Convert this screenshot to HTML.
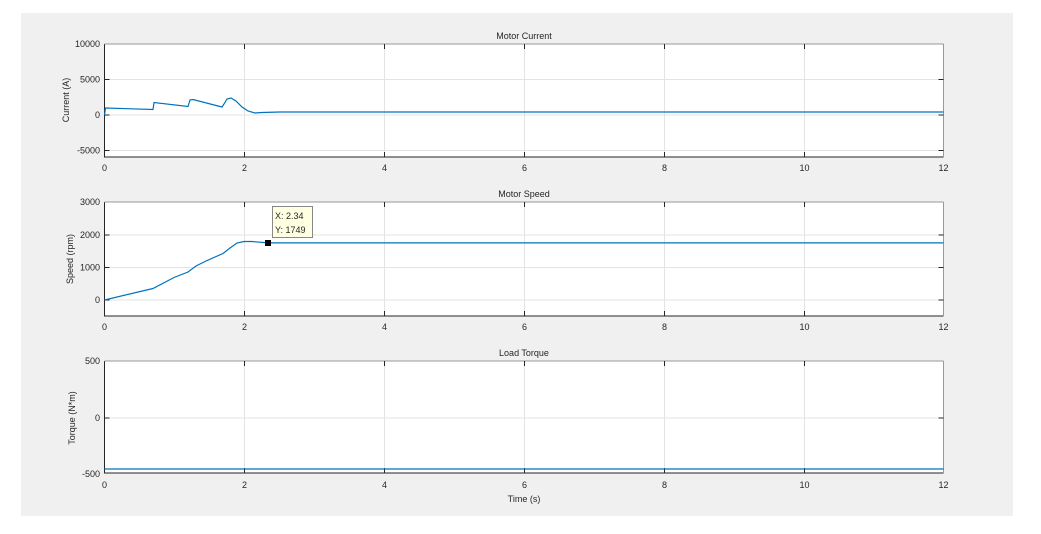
<!DOCTYPE html><html><head><style>body{margin:0;background:#fff}</style></head><body>
<svg width="1041" height="529" xmlns="http://www.w3.org/2000/svg" font-family="Liberation Sans, sans-serif" font-size="9" fill="#262626">
<rect x="21" y="13" width="992" height="503" fill="#f0f0f0"/>
<g id="grid" stroke="#e3e3e3" stroke-width="1">
<rect x="104.5" y="44" width="839" height="113" fill="#fff" stroke="none"/>
<rect x="104.5" y="202" width="839" height="114" fill="#fff" stroke="none"/>
<rect x="104.5" y="361" width="839" height="112" fill="#fff" stroke="none"/>
<path d="M244.5 44V157M384.5 44V157M524.5 44V157M664.5 44V157M804.5 44V157M104.5 79.5H943.5M104.5 115H943.5M104.5 150.5H943.5"/>
<path d="M244.5 202V316M384.5 202V316M524.5 202V316M664.5 202V316M804.5 202V316M104.5 235H943.5M104.5 267.5H943.5M104.5 300H943.5"/>
<path d="M244.5 361V473M384.5 361V473M524.5 361V473M664.5 361V473M804.5 361V473M104.5 418H943.5"/>
</g>
<g stroke="#262626" fill="none" stroke-width="1">
<path d="M104.5 44V157H943.5"/><path d="M943.5 44V157M104.5 44H943.5" stroke="#999"/>
<path d="M104.5 202V316H943.5"/><path d="M943.5 202V316M104.5 202H943.5" stroke="#999"/>
<path d="M104.5 361V473H943.5"/><path d="M943.5 361V473M104.5 361H943.5" stroke="#999"/>
<path d="M244.5 157v-5M384.5 157v-5M524.5 157v-5M664.5 157v-5M804.5 157v-5M244.5 44v5M384.5 44v5M524.5 44v5M664.5 44v5M804.5 44v5M104.5 79.5h5M104.5 115h5M104.5 150.5h5M938.5 79.5h5M938.5 115h5M938.5 150.5h5"/>
<path d="M244.5 316v-5M384.5 316v-5M524.5 316v-5M664.5 316v-5M804.5 316v-5M244.5 202v5M384.5 202v5M524.5 202v5M664.5 202v5M804.5 202v5M104.5 235h5M104.5 267.5h5M104.5 300h5M938.5 235h5M938.5 267.5h5M938.5 300h5"/>
<path d="M244.5 473v-5M384.5 473v-5M524.5 473v-5M664.5 473v-5M804.5 473v-5M244.5 361v5M384.5 361v5M524.5 361v5M664.5 361v5M804.5 361v5M104.5 418h5M938.5 418h5"/>
</g>
<g fill="none" stroke="#0072bd" stroke-width="1.2">
<path d="M104.5 115L105.5 108L153 109.5L154 102.5L188 106.5L190 100L193 99.5L222 107L224 104L227 99L231 98L236 101L242 107L248 111L255 113L262 112.5L280 112L943.5 112"/>
<path d="M104.5 300L153 288.5L174 277.5L188 272L196 266L206 261L223 253.5L230 248L237 243L244 241.5L252 241.5L268 242.9L943.5 242.9"/>
<path d="M104.5 469H943.5"/>
</g>
<rect x="265" y="240" width="6" height="6" fill="#000"/>
<rect x="272.5" y="206.5" width="40" height="31" fill="#ffffe1" stroke="#888"/>
<text x="275" y="219">X: 2.34</text><text x="275" y="233">Y: 1749</text>
<g text-anchor="middle">
<text x="104.5" y="171">0</text><text x="244.5" y="171">2</text><text x="384.5" y="171">4</text><text x="524.5" y="171">6</text><text x="664.5" y="171">8</text><text x="804.5" y="171">10</text><text x="943.5" y="171">12</text>
<text x="104.5" y="330">0</text><text x="244.5" y="330">2</text><text x="384.5" y="330">4</text><text x="524.5" y="330">6</text><text x="664.5" y="330">8</text><text x="804.5" y="330">10</text><text x="943.5" y="330">12</text>
<text x="104.5" y="488">0</text><text x="244.5" y="488">2</text><text x="384.5" y="488">4</text><text x="524.5" y="488">6</text><text x="664.5" y="488">8</text><text x="804.5" y="488">10</text><text x="943.5" y="488">12</text>
<text x="524" y="39">Motor Current</text><text x="524" y="197">Motor Speed</text><text x="524" y="356">Load Torque</text>
<text x="524" y="502">Time (s)</text>
<text transform="translate(69 100) rotate(-90)">Current (A)</text>
<text transform="translate(73 259) rotate(-90)">Speed (rpm)</text>
<text transform="translate(75 418) rotate(-90)">Torque (N*m)</text>
</g>
<g text-anchor="end">
<text x="100" y="47">10000</text><text x="100" y="82.5">5000</text><text x="100" y="118">0</text><text x="100" y="153.5">-5000</text>
<text x="100" y="205">3000</text><text x="100" y="238">2000</text><text x="100" y="270.5">1000</text><text x="100" y="303">0</text>
<text x="100" y="364">500</text><text x="100" y="421">0</text><text x="100" y="477">-500</text>
</g>
</svg></body></html>
